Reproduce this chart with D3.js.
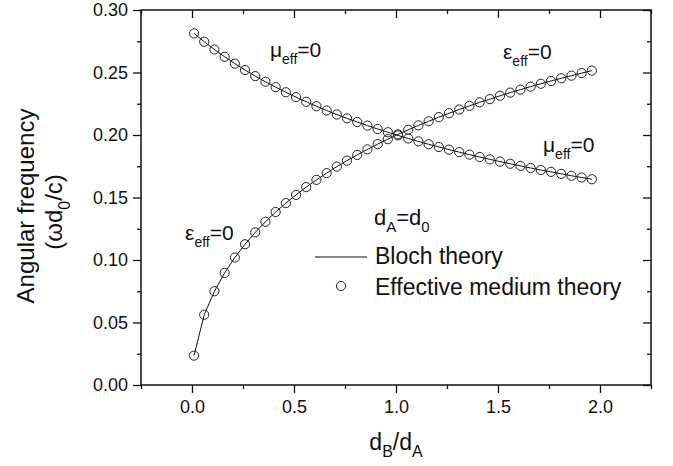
<!DOCTYPE html>
<html>
<head>
<meta charset="utf-8">
<script src="https://cdn.jsdelivr.net/npm/d3@7"></script>
<style>
  body { margin: 0; background: #fff; }
  svg { display: block; }
  text { font-family: "Liberation Sans", Arial, Helvetica, sans-serif; fill: #111; }
</style>
</head>
<body>
<svg id="chart" width="673" height="466"></svg>
<script>
// Thickness ratio d_B/d_A at which the band edges were computed
const ratio = [
  0.01, 0.06, 0.11, 0.16, 0.21, 0.26, 0.31, 0.36, 0.41, 0.46,
  0.51, 0.56, 0.61, 0.66, 0.71, 0.76, 0.81, 0.86, 0.91, 0.96,
  1.01, 1.06, 1.11, 1.16, 1.21, 1.26, 1.31, 1.36, 1.41, 1.46,
  1.51, 1.56, 1.61, 1.66, 1.71, 1.76, 1.81, 1.86, 1.91, 1.96
];
// Frequency of the eps_eff = 0 edge (omega d0 / c)
const epsZero = [
  0.0235, 0.0562, 0.0750, 0.0897, 0.1020, 0.1126, 0.1221, 0.1306, 0.1384, 0.1455,
  0.1521, 0.1583, 0.1641, 0.1695, 0.1747, 0.1795, 0.1841, 0.1885, 0.1927, 0.1967,
  0.2005, 0.2042, 0.2077, 0.2110, 0.2143, 0.2174, 0.2204, 0.2233, 0.2261, 0.2287,
  0.2314, 0.2339, 0.2363, 0.2387, 0.2410, 0.2432, 0.2454, 0.2475, 0.2495, 0.2515
];
// Frequency of the mu_eff = 0 edge (omega d0 / c)
const muZero = [
  0.2813, 0.2746, 0.2684, 0.2626, 0.2571, 0.2520, 0.2471, 0.2426, 0.2383, 0.2342,
  0.2303, 0.2266, 0.2230, 0.2196, 0.2164, 0.2133, 0.2104, 0.2075, 0.2048, 0.2022,
  0.1997, 0.1972, 0.1949, 0.1926, 0.1904, 0.1883, 0.1863, 0.1843, 0.1824, 0.1805,
  0.1787, 0.1770, 0.1753, 0.1736, 0.1720, 0.1705, 0.1689, 0.1674, 0.1660, 0.1646
];

const xTicks = [0.0, 0.5, 1.0, 1.5, 2.0];
const xMinorTicks = [-0.25, 0.25, 0.75, 1.25, 1.75, 2.25];
const yTicks = [0.00, 0.05, 0.10, 0.15, 0.20, 0.25, 0.30];
const yMinorTicks = [0.025, 0.075, 0.125, 0.175, 0.225, 0.275];

const xDomain = [-0.25, 2.25];
const yDomain = [0, 0.30];

const svg = d3.select("#chart");
const plot = { left: 141, right: 651, top: 10, bottom: 385 };

const x = d3.scaleLinear().domain(xDomain).range([plot.left, plot.right]);
const y = d3.scaleLinear().domain(yDomain).range([plot.bottom, plot.top]);

const ink = "#111";
const MAJOR = 8, MINOR = 4;

// ---- axes ----
function styleAxis(g) {
  g.select(".domain").remove();
  g.selectAll(".tick line").attr("stroke", ink).attr("stroke-width", 1.3);
  g.selectAll(".tick text").attr("fill", ink).style("font-size", "18px");
}

svg.append("g").attr("transform", `translate(0,${plot.bottom})`)
  .call(d3.axisBottom(x).tickValues(xTicks).tickFormat(d3.format(".1f"))
    .tickSize(MAJOR).tickPadding(7))
  .call(styleAxis);
svg.append("g").attr("transform", `translate(0,${plot.bottom})`)
  .call(d3.axisBottom(x).tickValues(xMinorTicks).tickFormat("").tickSize(MINOR))
  .call(styleAxis);

svg.append("g").attr("transform", `translate(${plot.left},0)`)
  .call(d3.axisLeft(y).tickValues(yTicks).tickFormat(d3.format(".2f"))
    .tickSize(MAJOR).tickPadding(5))
  .call(styleAxis);
svg.append("g").attr("transform", `translate(${plot.left},0)`)
  .call(d3.axisLeft(y).tickValues(yMinorTicks).tickFormat("").tickSize(MINOR))
  .call(styleAxis);

// mirrored ticks pointing into the frame on top and right
svg.append("g").attr("transform", `translate(0,${plot.top})`)
  .call(d3.axisTop(x).tickValues(xTicks).tickFormat("").tickSize(-MAJOR))
  .call(styleAxis);
svg.append("g").attr("transform", `translate(0,${plot.top})`)
  .call(d3.axisTop(x).tickValues(xMinorTicks).tickFormat("").tickSize(-MINOR))
  .call(styleAxis);
svg.append("g").attr("transform", `translate(${plot.right},0)`)
  .call(d3.axisRight(y).tickValues(yTicks).tickFormat("").tickSize(-MAJOR))
  .call(styleAxis);
svg.append("g").attr("transform", `translate(${plot.right},0)`)
  .call(d3.axisRight(y).tickValues(yMinorTicks).tickFormat("").tickSize(-MINOR))
  .call(styleAxis);

svg.append("rect")
  .attr("x", plot.left).attr("y", plot.top)
  .attr("width", plot.right - plot.left).attr("height", plot.bottom - plot.top)
  .attr("fill", "none").attr("stroke", ink).attr("stroke-width", 1.5);

// ---- text with subscripts ----
function richText(parent, parts, size, attrs) {
  const t = parent.append("text").style("font-size", size + "px");
  Object.entries(attrs).forEach(([k, v]) => t.attr(k, v));
  const shift = Math.round(size * 0.32);
  let down = false;
  parts.forEach(([str, sub]) => {
    const s = t.append("tspan").text(str);
    if (sub && !down) { s.attr("dy", shift).style("font-size", Math.round(size * 0.68) + "px"); down = true; }
    else if (!sub && down) { s.attr("dy", -shift); down = false; }
    else if (sub) { s.style("font-size", Math.round(size * 0.68) + "px"); }
  });
  return t;
}

// ---- curves ----
const epsData = ratio.map((r, i) => [r, epsZero[i]]);
const muData = ratio.map((r, i) => [r, muZero[i]]);
const line = d3.line().x(d => x(d[0])).y(d => y(d[1]));

[epsData, muData].forEach(data => {
  svg.append("path").datum(data)
    .attr("d", line).attr("fill", "none")
    .attr("stroke", ink).attr("stroke-width", 1);
  svg.append("g").selectAll("circle").data(data).join("circle")
    .attr("cx", d => x(d[0])).attr("cy", d => y(d[1])).attr("r", 4.6)
    .attr("fill", "none").attr("stroke", "#222").attr("stroke-width", 1);
});

// ---- curve annotations (anchored in data units) ----
const notes = [
  { parts: [["μ"], ["eff", 1], ["=0"]], at: [0.382, 0.2624] },
  { parts: [["ε"], ["eff", 1], ["=0"]], at: [1.5245, 0.2608] },
  { parts: [["μ"], ["eff", 1], ["=0"]], at: [1.7206, 0.1864] },
  { parts: [["ε"], ["eff", 1], ["=0"]], at: [-0.0343, 0.1160] },
  { parts: [["d"], ["A", 1], ["=d"], ["0", 1]], at: [0.892, 0.1280], size: 22 }
];
notes.forEach(n => richText(svg, n.parts, n.size || 21, { x: x(n.at[0]), y: y(n.at[1]) }));

// ---- legend ----
const legend = svg.append("g");
legend.append("line").attr("x1", 315).attr("x2", 367).attr("y1", 257).attr("y2", 257)
  .attr("stroke", ink).attr("stroke-width", 1);
legend.append("text").attr("x", 375).attr("y", 264).style("font-size", "23px").text("Bloch theory");
legend.append("circle").attr("cx", 341).attr("cy", 286).attr("r", 4.6)
  .attr("fill", "none").attr("stroke", "#222").attr("stroke-width", 1);
legend.append("text").attr("x", 375).attr("y", 295).style("font-size", "23px").text("Effective medium theory");

// ---- axis titles ----
richText(svg, [["d"], ["B", 1], ["/d"], ["A", 1]], 23,
  { x: (plot.left + plot.right) / 2, y: 450, "text-anchor": "middle" });

svg.append("text").attr("transform", "translate(34,206) rotate(-90)")
  .attr("text-anchor", "middle").style("font-size", "24px").text("Angular frequency");
richText(svg, [["(ωd"], ["0", 1], ["/c)"]], 24,
  { transform: "translate(62,212) rotate(-90)", "text-anchor": "middle" });
</script>
</body>
</html>
